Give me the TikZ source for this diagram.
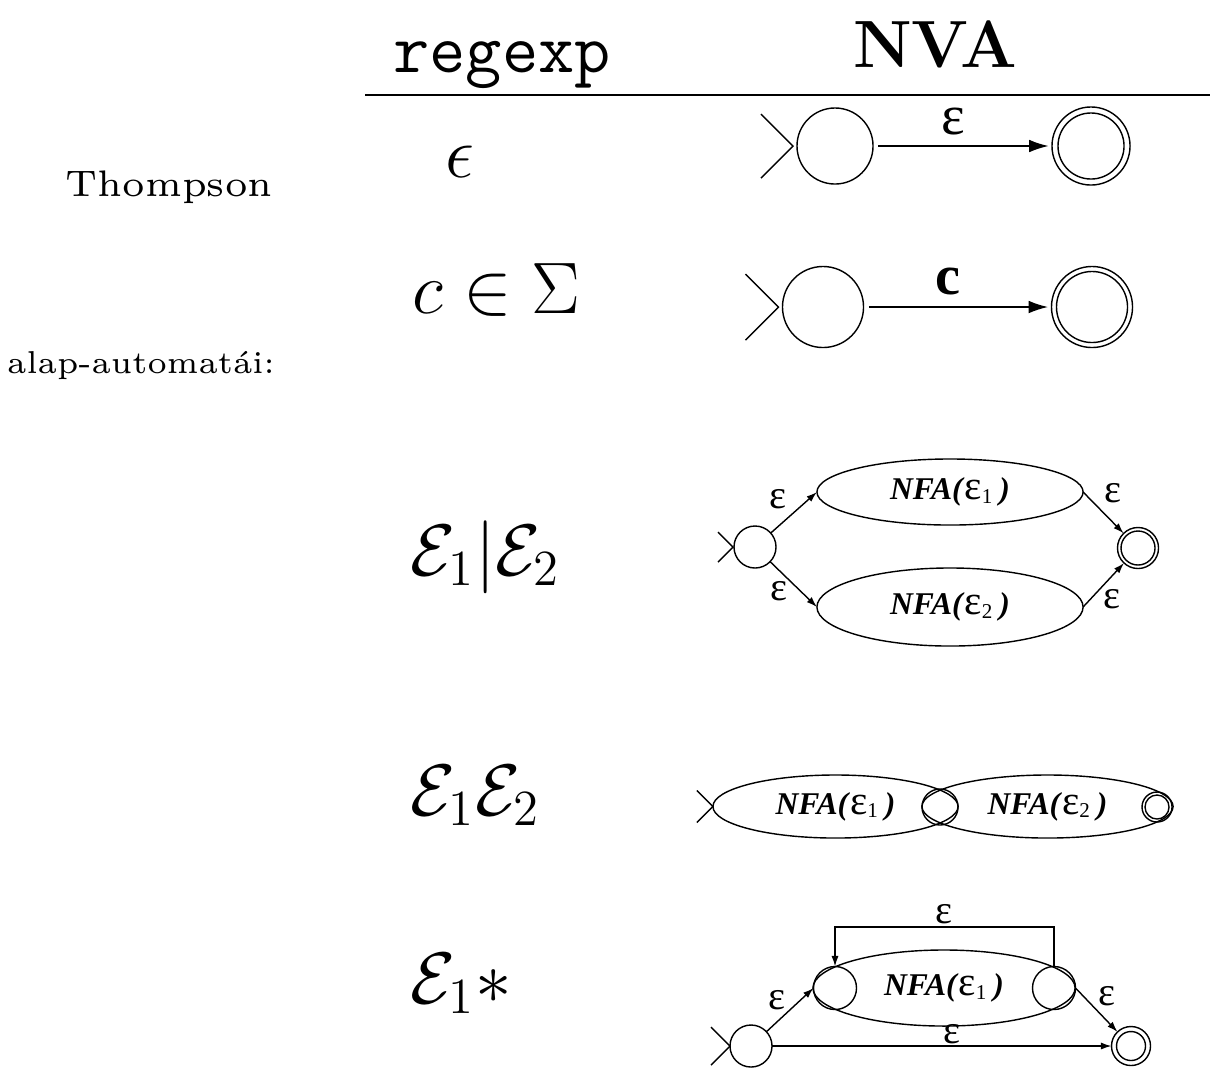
\documentclass[tikz,border=0pt]{standalone}
\usepackage{fontspec}
\newfontfamily\tms{Liberation Serif}
\usetikzlibrary{shapes.geometric,arrows.meta}

% NFA(eps_i) inside a sub-automaton
\newcommand{\nfa}[1]{\tms\textbf{\textit{NFA(}}\scalebox{1.3}{ε}\textsubscript{#1}\,\textbf{\textit{)}}}
% start marker: two strokes meeting just left of a state
\newcommand{\startmark}[3]{\draw (#1.west) ++(-#2,0) +(-#3,-#3) -- +(0,0) -- +(-#3,#3);}

\begin{document}
\begin{tikzpicture}[x=0.01cm,y=-0.01cm,thin,
  every node/.style={inner sep=0pt,outer sep=0pt},
  state/.style={draw,circle,minimum size=#1},
  accept/.style 2 args={draw,circle,minimum size=#1,
    path picture={\draw (path picture bounding box.center) circle[radius=#2];}},
  box/.style 2 args={draw,ellipse,minimum width=#1,minimum height=#2,
    font=\fontsize{9}{11}\selectfont},
  lab/.style={font=\tms\fontsize{11.5}{13}\selectfont},
  biglab/.style={font=\tms\fontsize{16}{18}\selectfont},
  regex/.style={anchor=base west,font=\fontsize{20}{24}\selectfont},
  side/.style 2 args={anchor=base,font=\fontsize{#1}{#1}\selectfont,scale=#2},
  bigarr/.style={-{Latex[length=5.5pt,width=3.6pt]},shorten <=1.5pt,shorten >=1pt},
  arr/.style={-{Latex[length=3pt,width=2pt]}}
]
\useasboundingbox (0,0) rectangle (1210,1072);

% Header
\node[anchor=base,font=\fontsize{20}{24}\selectfont\ttfamily] (hre) at (502,72) {regexp};
\node[anchor=base,font=\fontsize{19}{23}\selectfont\bfseries] (hnva) at (935,67) {NVA};
\draw[thick] (365,95) -- (1210,95);

% Side title
\node[side={6}{1.75}] (thomp) at (169,196) {Thompson};
\node[side={6}{1.5}] (alap) at (141,373) {alap-automatái:};

% Expressions
\node[regex] (r1) at (445,177) {$\epsilon$};
\node[regex] (r2) at (412,313) {$c\in\Sigma$};
\node[regex] (r3) at (410,575) {$\mathcal{E}_1|\mathcal{E}_2$};
\node[regex] (r4) at (410,815) {$\mathcal{E}_1\mathcal{E}_2$};
\node[regex] (r5) at (410,1003) {$\mathcal{E}_1*$};

% Empty word
\node[state=0.76cm] (s1) at (835,146) {};
\node[accept={0.78cm}{0.33cm}] (f1) at (1091,146) {};
\startmark{s1}{4}{32}
\draw[bigarr] (s1) -- node[pos=0.45,above=3pt,biglab] {ε} (f1);

% One letter
\node[state=0.81cm] (s2) at (823,307) {};
\node[accept={0.81cm}{0.355cm}] (f2) at (1092,307) {};
\startmark{s2}{4}{33}
\draw[bigarr] (s2) -- node[pos=0.45,above=3.3pt,biglab] {\bfseries c} (f2);

% Union
\node[state=0.42cm] (s3) at (755,547) {};
\node[box={2.66cm}{0.66cm}] (e31) at (950,492) {\nfa{1}};
\node[box={2.66cm}{0.78cm}] (e32) at (950,607) {\nfa{2}};
\node[accept={0.41cm}{0.17cm}] (f3) at (1138,548) {};
\startmark{s3}{1}{15}
\draw[arr] (s3) -- node[pos=0.45,above left=1.5pt,lab] {ε} (e31.west);
\draw[arr] (s3) -- node[pos=0.4,below left=0.5pt,lab] {ε} (e32.west);
\draw[arr] (e31.east) -- node[pos=0.4,above right=1.5pt,lab] {ε} (f3);
\draw[arr] (e32.east) -- node[pos=0.45,below right=0.5pt,lab] {ε} (f3);

% Concatenation
\node[box={2.45cm}{0.63cm}] (e41) at (835.5,806.5) {\nfa{1}};
\node[box={2.51cm}{0.63cm}] (e42) at (1047.5,806.5) {\nfa{2}};
\node[state=0.36cm] (m4) at (940,807) {};
\node[accept={0.30cm}{0.12cm}] (f4) at (1157,807) {};
\startmark{e41}{0}{16}

% Star
\node[box={2.62cm}{0.76cm}] (e5) at (944,988) {\nfa{1}};
\node[state=0.43cm] (q1) at (835,988) {};
\node[state=0.43cm] (q2) at (1054,988) {};
\node[state=0.42cm] (s5) at (751,1046) {};
\node[accept={0.39cm}{0.145cm}] (f5) at (1131,1046) {};
\startmark{s5}{0}{19}
\coordinate (back) at (944,927);
\draw[arr] (q2.north) |- (back) node[above=1pt,lab] {ε} -| (q1.north);
\draw[arr] (s5) -- node[pos=0.45,above left=0.5pt,lab] {ε} (q1.west);
\draw[arr] (q2.east) -- node[pos=0.48,above right=0.8pt,lab] {ε} (f5);
\draw[arr] (s5) -- node[pos=0.53,above=0.5pt,lab] {ε} (f5);
\end{tikzpicture}
\end{document}
